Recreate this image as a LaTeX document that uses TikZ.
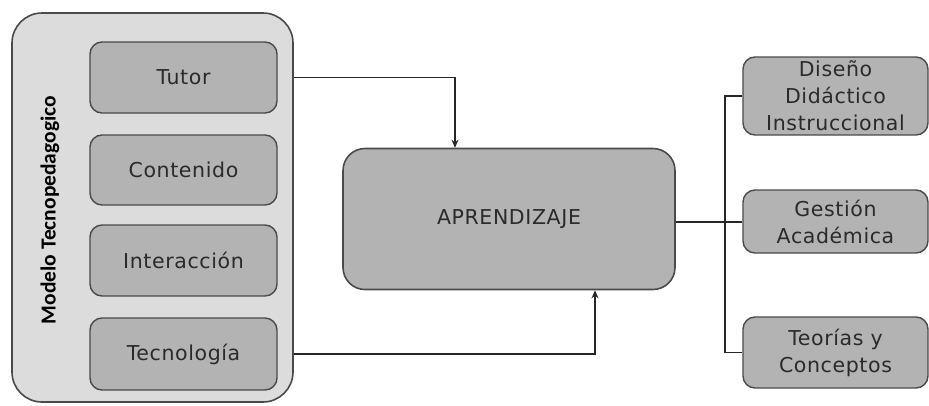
\documentclass[tikz,border=0pt]{standalone}
\usepackage{fontspec}
\setmainfont{DejaVu Sans}[LetterSpace=3]
\newfontfamily\lblfont{Carlito}
\usetikzlibrary{arrows.meta,calc}
\definecolor{outerfill}{HTML}{DCDCDC}
\definecolor{boxfill}{HTML}{B3B3B3}
\definecolor{edge}{HTML}{4A4A4A}
\definecolor{txt}{HTML}{2A2A2A}
\tikzset{
  outerbox/.style={draw=edge,line width=1.6pt,fill=outerfill,rounded corners=30pt,minimum width=281pt,minimum height=389pt,inner sep=0pt},
  itembox/.style={draw=edge,line width=1.4pt,fill=boxfill,rounded corners=12pt,minimum width=187pt,inner sep=0pt,align=center,text=txt,font=\fontsize{20.5}{27}\selectfont},
  rbox/.style={itembox,minimum width=185pt},
  mainbox/.style={draw=edge,line width=1.6pt,fill=boxfill,rounded corners=22pt,minimum width=332pt,minimum height=141pt,inner sep=0pt,text=txt,font=\fontsize{20.5}{27}\selectfont},
  conn/.style={draw=black!85,line width=1.3pt},
  arr/.style={conn,-{Stealth[length=8pt,width=7pt]}}
}
\begin{document}
\begin{tikzpicture}[x=1pt,y=-1pt]
\useasboundingbox (0,0) rectangle (929,405);
\node[outerbox] (outer) at (152.5,207.5) {};
\node[rotate=90,font=\lblfont\bfseries\fontsize{21.5}{24}\selectfont,text=black] (lbl) at (50,210) {Modelo Tecnopedagogico};
\node[itembox,minimum height=71pt] (tutor) at (183.5,77.5) {Tutor};
\node[itembox,minimum height=70pt] (cont) at (183.5,170) {Contenido};
\node[itembox,minimum height=71pt] (inter) at (183.5,260.5) {Interacción};
\node[itembox,minimum height=72pt] (tecno) at (183.5,354) {Tecnología};
\node[mainbox] (apr) at (509,219) {APRENDIZAJE};
\node[rbox,minimum height=78pt] (dis) at (835.5,96) {Diseño\\Didáctico\\Instruccional};
\node[rbox,minimum height=63pt] (ges) at (835.5,221.5) {Gestión\\Académica};
\node[rbox,minimum height=71pt] (teo) at (835.5,352.5) {Teorías y\\Conceptos};
\draw[arr] (outer.east |- tutor) -| ([xshift=-54pt]apr.north);
\draw[arr] (outer.east |- tecno) -| ([xshift=86pt]apr.south);
\coordinate (hub) at (725,222);
\draw[conn] (apr.east |- hub) -- (hub);
\draw[conn] (dis.west) -- (hub |- dis.west) -- (hub |- teo.west) -- (teo.west);
\draw[conn] (hub) -- (ges.west |- hub);
\end{tikzpicture}
\end{document}
